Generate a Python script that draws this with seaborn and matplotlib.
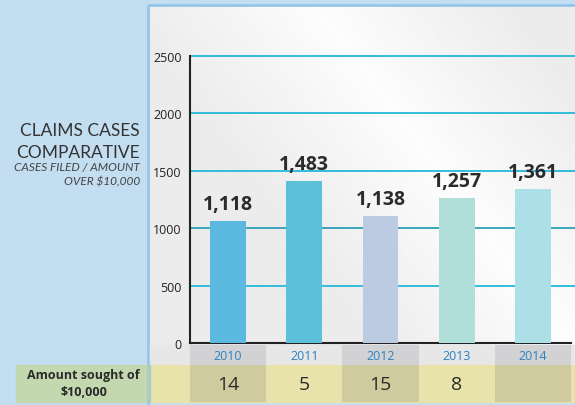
import numpy as np
import pandas as pd
import matplotlib.pyplot as plt
import seaborn as sns

# данные
years = ['2010', '2011', '2012', '2013', '2014']
bar_heights = [1063, 1411, 1109, 1263, 1341]   # высота столбцов, как на картинке
bar_labels = ['1,118', '1,483', '1,138', '1,257', '1,361']
amount_sought = ['14', '5', '15', '8', '']
bar_colors = ['#5bb8de', '#5bc0d8', '#bccbe2', '#b0ded9', '#ade0e6']
y_ticks = [0, 500, 1000, 1500, 2000, 2500]

df = pd.DataFrame({'Year': years, 'Cases': bar_heights})

sns.set_style('white')
plt.rcParams['font.family'] = ['Open Sans', 'DejaVu Sans']

W, H = 575, 406
fig = plt.figure(figsize=(W / 100, H / 100), dpi=100)
fig.patch.set_facecolor('#c3def0')

# фон в пикселях
bg = fig.add_axes([0, 0, 1, 1], zorder=0)
bg.set_xlim(0, W)
bg.set_ylim(H, 0)
bg.axis('off')

# панель с градиентом
yy, xx = np.mgrid[0:1:200j, 0:1:200j]
d = np.abs((xx - 0.45) - (yy - 0.1) * 0.6)
grad = 0.925 + 0.065 * np.clip(1 - d * 2.2, 0, 1)
bg.imshow(grad, cmap='gray', vmin=0, vmax=1, extent=[150, W, 346, 7],
          aspect='auto', zorder=1)
bg.add_patch(plt.Rectangle((148, 6), W - 147, H, fill=False,
                           ec='#95c6ea', lw=2, zorder=2))

# строки снизу
bg.add_patch(plt.Rectangle((150, 346), W - 150, 20, color='#e7e7e7', zorder=3))
bg.add_patch(plt.Rectangle((150, 366), W - 150, 37, color='#e8e3aa', zorder=3))
bg.add_patch(plt.Rectangle((16, 366), 132, 37, color='#c4d8b0', zorder=3))
bg.add_patch(plt.Rectangle((147, 366), 3, 37, color='#a9cfc4', zorder=4))
bg.text(140, 376, 'Amount sought of', ha='right', va='center',
        fontsize=9, fontweight='bold', color='#2a2a2a', zorder=5)
bg.text(84, 393, '$10,000', ha='center', va='center',
        fontsize=9, fontweight='bold', color='#2a2a2a', zorder=5)

# заголовок
bg.text(140, 131, 'CLAIMS CASES', ha='right', va='center', fontsize=12.5,
        color='#333333', family=['Lato', 'DejaVu Sans'], zorder=5)
bg.text(140, 153, 'COMPARATIVE', ha='right', va='center', fontsize=12.5,
        color='#333333', family=['Lato', 'DejaVu Sans'], zorder=5)
bg.text(140, 168, 'CASES FILED / AMOUNT', ha='right', va='center', fontsize=8.6,
        style='italic', color='#444444', family=['Lato', 'DejaVu Sans'], zorder=5)
bg.text(140, 182, 'OVER $10,000', ha='right', va='center', fontsize=8.6,
        style='italic', color='#444444', family=['Lato', 'DejaVu Sans'], zorder=5)

# основной график
left, right, top, bottom = 190, 571, 57, 344
ax = fig.add_axes([left / W, 1 - bottom / H, (right - left) / W, (bottom - top) / H],
                  zorder=2)
ax.patch.set_alpha(0)
sns.barplot(data=df, x='Year', y='Cases', hue='Year', palette=bar_colors,
            width=0.47, legend=False, saturation=1, linewidth=0, ax=ax, zorder=3)
ax.set_xlim(-0.5, 4.5)
ax.set_ylim(0, 2500)
ax.set_yticks(y_ticks)
ax.set_yticklabels([str(t) for t in y_ticks], fontsize=9, color='#222222')
ax.tick_params(axis='y', length=0, pad=6)
for t in y_ticks[1:]:
    c = '#2d9fb7' if t == 1000 else '#22b8da'
    ax.axhline(t, xmin=0, xmax=1.01, color=c, lw=1.3, zorder=1, clip_on=False)
ax.set_xticks([0.5, 1.5, 2.5, 3.5, 4.5])
ax.set_xticklabels([])
ax.tick_params(axis='x', direction='in', length=6, width=1.3, color='#222222')
ax.set_xlabel('')
ax.set_ylabel('')
for s in ['top', 'right']:
    ax.spines[s].set_visible(False)
for s in ['left', 'bottom']:
    ax.spines[s].set_color('#222222')
    ax.spines[s].set_linewidth(1.5)

for i, (h, lab) in enumerate(zip(bar_heights, bar_labels)):
    ax.annotate(lab, (i, h), xytext=(0, 5), textcoords='offset points',
                ha='center', va='bottom', fontsize=14, fontweight='bold',
                color='#2b2b2b')

# полоса с годами и суммами
sx = fig.add_axes([left / W, 1 - 403 / H, (right - left) / W, (403 - 346) / H],
                  zorder=1)
sx.patch.set_alpha(0)
sx.set_xlim(-0.5, 4.5)
sx.set_ylim(57, 0)
sx.axis('off')
for i, (yr, amt) in enumerate(zip(years, amount_sought)):
    if i % 2 == 0:
        sx.add_patch(plt.Rectangle((i - 0.5, 0), 1, 20, color='#d2d2d4', lw=0))
        sx.add_patch(plt.Rectangle((i - 0.5, 20), 1, 37, color='#d0cb9e', lw=0))
    sx.text(i, 11, yr, ha='center', va='center', fontsize=9, color='#2b82c2')
    sx.text(i, 39, amt, ha='center', va='center', fontsize=14, color='#2a2a2a')

fig.savefig('out.png', dpi=100, facecolor=fig.get_facecolor())
